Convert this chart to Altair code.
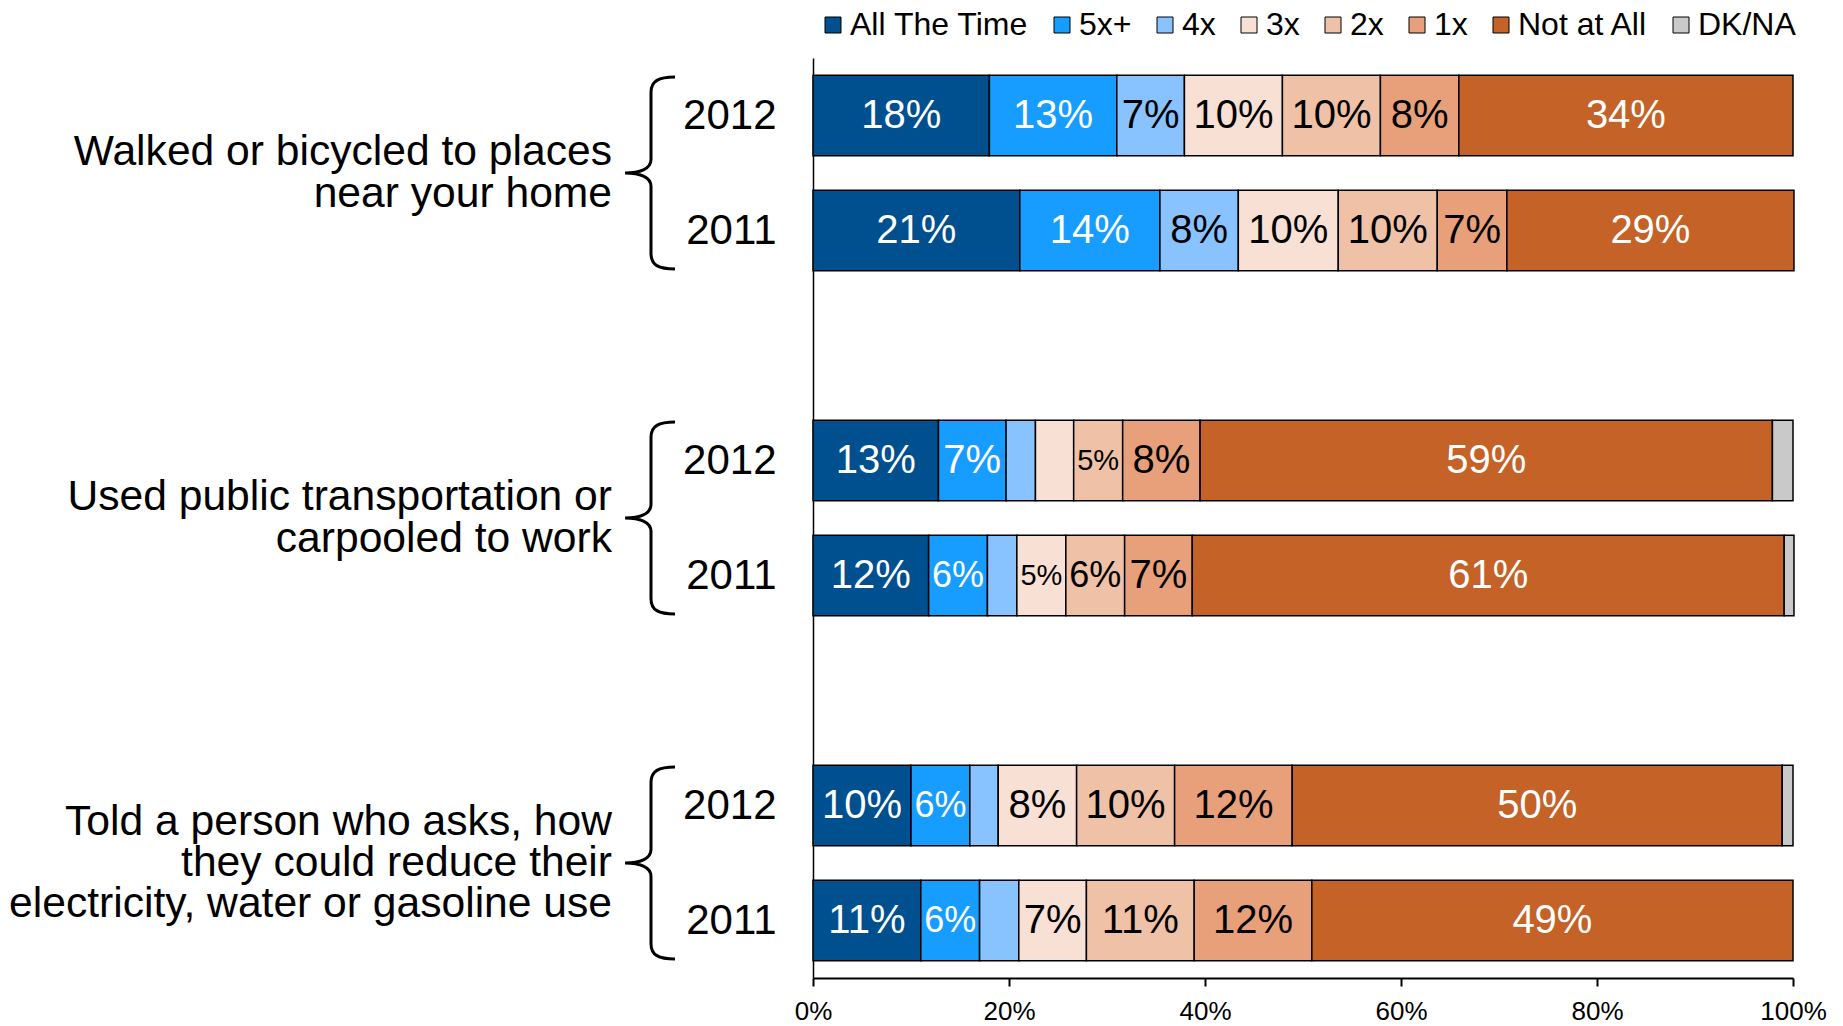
import altair as alt
import pandas as pd

categories = ["All The Time", "5x+", "4x", "3x", "2x", "1x", "Not at All", "DK/NA"]
colors = ["#004F8E", "#179CFF", "#88C3FF", "#F8E0D4", "#EFC1A7", "#E8A07A", "#C46227", "#C9C9C9"]
text_colors = ["white", "white", "black", "black", "black", "black", "white", "black"]

question_lines = [
    ["Walked or bicycled to places", "near your home"],
    ["Used public transportation or", "carpooled to work"],
    ["Told a person who asks, how", "they could reduce their", "electricity, water or gasoline use"],
]
years = ["2012", "2011"]

walked_2012 = [18.0, 13.0, 6.9, 10.0, 10.0, 8.0, 34.1, 0.0]
walked_2011 = [21.1, 14.3, 8.0, 10.2, 10.1, 7.1, 29.3, 0.0]
public_2012 = [12.8, 6.9, 3.0, 3.9, 5.0, 7.9, 58.4, 2.1]
public_2011 = [11.8, 6.0, 3.0, 5.0, 6.0, 6.9, 60.4, 1.0]
told_2012 = [10.0, 6.0, 2.9, 8.0, 10.0, 12.0, 50.0, 1.1]
told_2011 = [11.0, 6.0, 4.0, 6.9, 11.0, 12.0, 49.1, 0.0]

walked_2012_labels = ["18%", "13%", "7%", "10%", "10%", "8%", "34%", ""]
walked_2011_labels = ["21%", "14%", "8%", "10%", "10%", "7%", "29%", ""]
public_2012_labels = ["13%", "7%", "", "", "5%", "8%", "59%", ""]
public_2011_labels = ["12%", "6%", "", "5%", "6%", "7%", "61%", ""]
told_2012_labels = ["10%", "6%", "", "8%", "10%", "12%", "50%", ""]
told_2011_labels = ["11%", "6%", "", "7%", "11%", "12%", "49%", ""]

x_ticks = [0, 20, 40, 60, 80, 100]

rows = [walked_2012, walked_2011, public_2012, public_2011, told_2012, told_2011]
row_labels = [walked_2012_labels, walked_2011_labels, public_2012_labels,
              public_2011_labels, told_2012_labels, told_2011_labels]

records = []
for r, (vals, labs) in enumerate(zip(rows, row_labels)):
    qi, yi = divmod(r, 2)
    acc = 0.0
    for ci, (v, lab) in enumerate(zip(vals, labs)):
        records.append(dict(slot=3 * qi + yi, year=years[yi], category=categories[ci],
                            x0=acc, x1=acc + v, value=v, label=lab, tcolor=text_colors[ci]))
        acc += v
df = pd.DataFrame(records)
df = df[df["value"] > 0]

qdf = pd.DataFrame({"slot": [3 * q + 0.5 for q in range(3)]})
line_records = []
for q, lines in enumerate(question_lines):
    for i, t in enumerate(lines):
        line_records.append(dict(slot=3 * q + 0.5, idx=i, n=len(lines), text=t))
ldf = pd.DataFrame(line_records)

slot_year = {3 * q + i: years[i] for q in range(3) for i in range(2)}
year_expr = "".join(f"datum.value == {s} ? '{y}' : " for s, y in slot_year.items()) + "''"

yscale = alt.Scale(domain=[-0.5, 7.5], reverse=True, nice=False, zero=False)
xscale = alt.Scale(domain=[0, 100], nice=False)

bars = alt.Chart(df).transform_calculate(
    ya="datum.slot - 0.35", yb="datum.slot + 0.35"
).mark_bar(stroke="black", strokeWidth=1.5).encode(
    x=alt.X("x0:Q", scale=xscale, axis=alt.Axis(
        values=x_ticks, labelExpr="datum.value + '%'", title=None, grid=False,
        labelFontSize=26, labelColor="black", domainColor="black", domainWidth=2,
        tickColor="black", tickWidth=2, tickSize=8, labelPadding=12, labelFlush=False)),
    x2="x1:Q",
    y=alt.Y("ya:Q", scale=yscale, axis=alt.Axis(
        values=list(slot_year.keys()), labelExpr=year_expr, title=None, grid=False,
        ticks=False, labelFontSize=42, labelColor="black", labelPadding=37,
        domainColor="black", domainWidth=1.5)),
    y2="yb:Q",
    color=alt.Color("category:N", sort=categories,
                    scale=alt.Scale(domain=categories, range=colors),
                    legend=alt.Legend(title=None, orient="none", direction="horizontal",
                                      legendX=4, legendY=-49, symbolType="square",
                                      symbolSize=256, symbolStrokeColor="black",
                                      symbolStrokeWidth=1, labelFontSize=32,
                                      labelColor="black", labelOffset=1, labelLimit=500,
                                      columnPadding=17, symbolOpacity=1)),
)

labels = alt.Chart(df).transform_filter("datum.label != ''").transform_calculate(
    xm="(datum.x0 + datum.x1) / 2",
    fs="datum.value < 5.5 ? 29 : (datum.value < 6.5 ? 36 : 40)",
).mark_text(align="center", baseline="middle").encode(
    x=alt.X("xm:Q", scale=xscale),
    y=alt.Y("slot:Q", scale=yscale),
    text="label:N",
    color=alt.Color("tcolor:N", scale=None),
    size=alt.Size("fs:Q", scale=None),
)

qtext = alt.Chart(ldf).transform_calculate(
    ly="datum.slot + (datum.idx - (datum.n - 1) / 2) * 0.36"
).mark_text(align="right", baseline="middle", fontSize=42.6, color="black").encode(
    x=alt.value(-201),
    y=alt.Y("ly:Q", scale=yscale),
    text="text:N",
)

brace_path = ("M0.25,-1 C0.08,-1 0,-0.96 0,-0.84 L0,-0.14 C0,-0.04 -0.12,0 -0.27,0 "
              "C-0.12,0 0,0.04 0,0.14 L0,0.84 C0,0.96 0.08,1 0.25,1")
braces = alt.Chart(qdf).mark_point(shape=brace_path, size=36864, filled=False,
                                   strokeWidth=3, color="black", opacity=1).encode(
    x=alt.value(-162),
    y=alt.Y("slot:Q", scale=yscale),
)

chart = alt.layer(bars, labels, qtext, braces).properties(
    width=980, height=920,
    autosize=alt.AutoSizeParams(type="none"),
    padding={"left": 805, "top": 50, "right": 42, "bottom": 47},
).configure(font="Liberation Sans").configure_view(stroke=None)

chart.save("out.html", embed_options={"renderer": "svg", "actions": False})
